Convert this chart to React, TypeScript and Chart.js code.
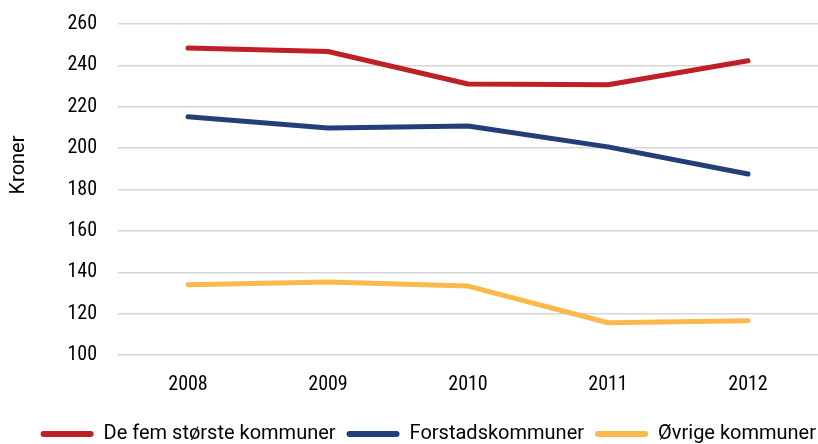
import React, { useEffect, useRef } from "react";
import { Chart, registerables } from "chart.js";

Chart.register(...registerables);

const years = ["2008", "2009", "2010", "2011", "2012"];
const storste = [248.4, 246.7, 231.0, 230.6, 242.2];
const forstad = [215.2, 209.7, 210.7, 200.6, 187.5];
const ovrige = [134.0, 135.3, 133.3, 115.6, 116.6];
const yTitle = "Kroner";

const TICK_FONT = "'Roboto Condensed', 'Roboto', sans-serif";
const TEXT_FONT = "'Roboto', sans-serif";

const yTitlePlugin = {
  id: "yTitle",
  beforeDraw(chart: any) {
    // nudge the legend to the right edge, as in the reference
    if (chart.legend && !chart.legend._nudged) {
      chart.legend.left += 9;
      chart.legend.right += 9;
      chart.legend._nudged = true;
    }
  },
  afterDraw(chart: any) {
    const ctx = chart.ctx;
    ctx.save();
    ctx.translate(19, 165);
    ctx.rotate(-Math.PI / 2);
    ctx.font = `20px ${TEXT_FONT}`;
    ctx.fillStyle = "#000";
    ctx.textAlign = "center";
    ctx.textBaseline = "middle";
    ctx.fillText(yTitle, 0, 0);
    ctx.restore();
  },
};

export default function App() {
  const ref = useRef<HTMLCanvasElement>(null);
  useEffect(() => {
    document.body.style.margin = "0";
    const mk = (label: string, data: number[], color: string) => ({
      label,
      data,
      borderColor: color,
      backgroundColor: color,
      borderWidth: 5,
      pointRadius: 0,
      tension: 0,
      borderCapStyle: "round" as const,
      borderJoinStyle: "round" as const,
    });
    const chart = new Chart(ref.current!, {
      type: "line",
      data: {
        labels: years,
        datasets: [
          mk("De fem største kommuner", storste, "#be2026"),
          mk("Forstadskommuner", forstad, "#223f7a"),
          mk("Øvrige kommuner", ovrige, "#fbb84b"),
        ],
      },
      plugins: [yTitlePlugin],
      options: {
        animation: false,
        responsive: false,
        maintainAspectRatio: false,
        layout: { padding: { top: 24, left: 0, right: 0, bottom: -10 } },
        plugins: {
          tooltip: { enabled: false },
          legend: {
            position: "bottom",
            align: "end",
            labels: {
              color: "#000",
              font: { family: TEXT_FONT, size: 20 },
              boxWidth: 53,
              boxHeight: 6,
              padding: 11,
              useBorderRadius: true,
              borderRadius: 3,
              generateLabels: (c: any) =>
                Chart.defaults.plugins.legend.labels
                  .generateLabels(c)
                  .map((l: any) => ({ ...l, lineWidth: 0 })),
            },
          },
        },
        scales: {
          x: {
            offset: true,
            grid: { display: false },
            border: { display: false },
            ticks: { color: "#000", font: { family: TICK_FONT, size: 20 }, padding: 10 },
            afterFit: (s: any) => {
              s.height = 58;
            },
          },
          y: {
            min: 100,
            max: 260,
            border: { display: false },
            grid: {
              color: "#d6d6d6",
              lineWidth: 1.5,
              drawTicks: true,
              tickLength: 21,
              tickColor: "transparent",
            },
            ticks: {
              stepSize: 20,
              color: "#000",
              font: { family: TICK_FONT, size: 20 },
              padding: 0,
            },
            afterFit: (s: any) => {
              s.width = 118;
            },
          },
        },
      },
    });
    return () => chart.destroy();
  }, []);
  return (
    <div style={{ width: 818, height: 444 }}>
      <canvas ref={ref} width={818} height={444} />
    </div>
  );
}
